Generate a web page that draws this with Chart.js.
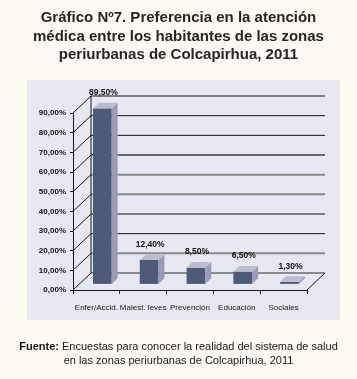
<!DOCTYPE html>
<html>
<head>
<meta charset="utf-8">
<script src="https://cdn.jsdelivr.net/npm/chart.js@4/dist/chart.umd.min.js"></script>
<style>
  html, body { margin: 0; padding: 0; background: #fdf9f3; }
  #wrap { position: relative; width: 357px; height: 379px; overflow: hidden; }
  #c { position: absolute; left: 0; top: 0; }
  .title { position: absolute; left: 0; width: 357px; top: 8px; text-align: center;
    font: bold 15px "Liberation Sans", Arial, sans-serif; line-height: 18.5px; color: #262626; }
  .foot { position: absolute; left: 0; width: 357px; top: 340px; text-align: center;
    font: 11px "Liberation Sans", Arial, sans-serif; line-height: 13.5px; color: #1a1a1a; }
</style>
</head>
<body>
<div id="wrap">
  <canvas id="c" width="357" height="379"></canvas>
  <div class="title">Gráfico Nº7. Preferencia en la atención<br>médica entre los habitantes de las zonas<br>periurbanas de Colcapirhua, 2011</div>
  <div class="foot"><b>Fuente:</b> Encuestas para conocer la realidad del sistema de salud<br>en las zonas periurbanas de Colcapirhua, 2011</div>
</div>
<script>
const categories = ["Enfer/Accid.", "Malest. leves", "Prevención", "Educación", "Sociales"];
const values = [89.5, 12.4, 8.5, 6.5, 1.3];
const valueLabels = ["89,50%", "12,40%", "8,50%", "6,50%", "1,30%"];
const yTicks = [0, 10, 20, 30, 40, 50, 60, 70, 80, 90];

const DX = 18, DY = -17;       // 3D depth offset
const FRONT = 0.33, DEPTH = 0.33;

function fmtPct(v) { return v.toFixed(2).replace('.', ',') + '%'; }

const threeD = {
  id: 'threeD',
  beforeDraw(chart) {
    const { ctx, chartArea: a } = chart;
    ctx.save();
    ctx.fillStyle = '#e7e8f1';
    ctx.fillRect(a.left - 46, a.top - 33, a.right - a.left + 79, a.bottom - a.top + 63);
    ctx.restore();
  },
  beforeDatasetsDraw(chart) {
    const { ctx, chartArea: a, scales } = chart;
    const y = scales.y;
    ctx.save();
    yTicks.forEach(v => {
      const py = y.getPixelForValue(v);
      let col = '#151515', lw = 1;
      if (v === 60) { col = '#3a3a3a'; lw = 1.5; }
      if (v === 50 || v === 40 || v === 10 || v === 0) { col = '#8a8a8a'; lw = 2; }
      ctx.strokeStyle = col; ctx.lineWidth = lw;
      ctx.beginPath();
      ctx.moveTo(a.left + DX, py + DY);
      ctx.lineTo(a.right + DX, py + DY);
      ctx.stroke();
      ctx.strokeStyle = '#151515'; ctx.lineWidth = 1;
      ctx.beginPath();
      ctx.moveTo(a.left, py);
      ctx.lineTo(a.left + DX, py + DY);
      ctx.stroke();
    });
    const y0 = y.getPixelForValue(0), yT = y.getPixelForValue(90);
    ctx.strokeStyle = '#151515'; ctx.lineWidth = 1;
    ctx.beginPath();
    ctx.moveTo(a.left + DX, y0 + DY); ctx.lineTo(a.left + DX, yT + DY);
    ctx.moveTo(a.right, y0); ctx.lineTo(a.right + DX, y0 + DY);
    ctx.stroke();
    ctx.restore();
  },
  afterDatasetsDraw(chart) {
    const { ctx } = chart;
    const meta = chart.getDatasetMeta(0);
    ctx.save();
    meta.data.forEach((el, i) => {
      const p = el.getProps(['x', 'y', 'base', 'width'], true);
      const fx = FRONT * DX, fy = FRONT * DY, dx = DEPTH * DX, dy = DEPTH * DY;
      const l = p.x - p.width / 2 + fx, r = p.x + p.width / 2 + fx;
      const t = p.y + fy, b = p.base + fy;
      ctx.fillStyle = '#4d5b78';
      ctx.fillRect(l, t, r - l, b - t);
      ctx.fillStyle = '#9b9bb6';
      ctx.beginPath();
      ctx.moveTo(r, t); ctx.lineTo(r + dx, t + dy); ctx.lineTo(r + dx, b + dy); ctx.lineTo(r, b);
      ctx.closePath(); ctx.fill();
      ctx.fillStyle = '#bcbccf';
      ctx.beginPath();
      ctx.moveTo(l, t); ctx.lineTo(l + dx, t + dy); ctx.lineTo(r + dx, t + dy); ctx.lineTo(r, t);
      ctx.closePath(); ctx.fill();
      ctx.fillStyle = '#111';
      ctx.font = 'bold 8.5px "Liberation Sans", Arial, sans-serif';
      ctx.textAlign = 'center'; ctx.textBaseline = 'middle';
      ctx.fillText(valueLabels[i], (l + r) / 2 + 1, t + dy - 10);
    });
    ctx.restore();
  }
};

new Chart(document.getElementById('c'), {
  type: 'bar',
  data: {
    labels: categories,
    datasets: [{ data: values, backgroundColor: 'rgba(0,0,0,0)', borderWidth: 0,
      categoryPercentage: 1, barPercentage: 0.4 }]
  },
  options: {
    responsive: false, animation: false,
    layout: { padding: { left: 0, right: 50, top: 113, bottom: 0 } },
    plugins: { legend: { display: false }, tooltip: { enabled: false }, title: { display: false } },
    scales: {
      x: {
        grid: { display: true, drawOnChartArea: false, drawTicks: true, tickLength: 4, color: '#151515', offset: true },
        border: { display: true, color: '#151515', width: 1 },
        ticks: { color: '#1a1a1a', padding: 9, maxRotation: 0, autoSkip: false,
          font: { family: '"Liberation Sans", Arial, sans-serif', size: 8 } },
        afterFit(s) { s.height = 89; }
      },
      y: {
        min: 0, max: 90,
        afterBuildTicks(s) { s.ticks = yTicks.map(v => ({ value: v })); },
        grid: { display: true, drawOnChartArea: false, drawTicks: true, tickLength: 3, color: '#151515' },
        border: { display: true, color: '#151515', width: 1 },
        ticks: { color: '#111', padding: 4, callback: v => fmtPct(v),
          font: { family: '"Liberation Sans", Arial, sans-serif', size: 8, weight: 'bold' } },
        afterFit(s) { s.width = 73; }
      }
    }
  },
  plugins: [threeD]
});
</script>
</body>
</html>
